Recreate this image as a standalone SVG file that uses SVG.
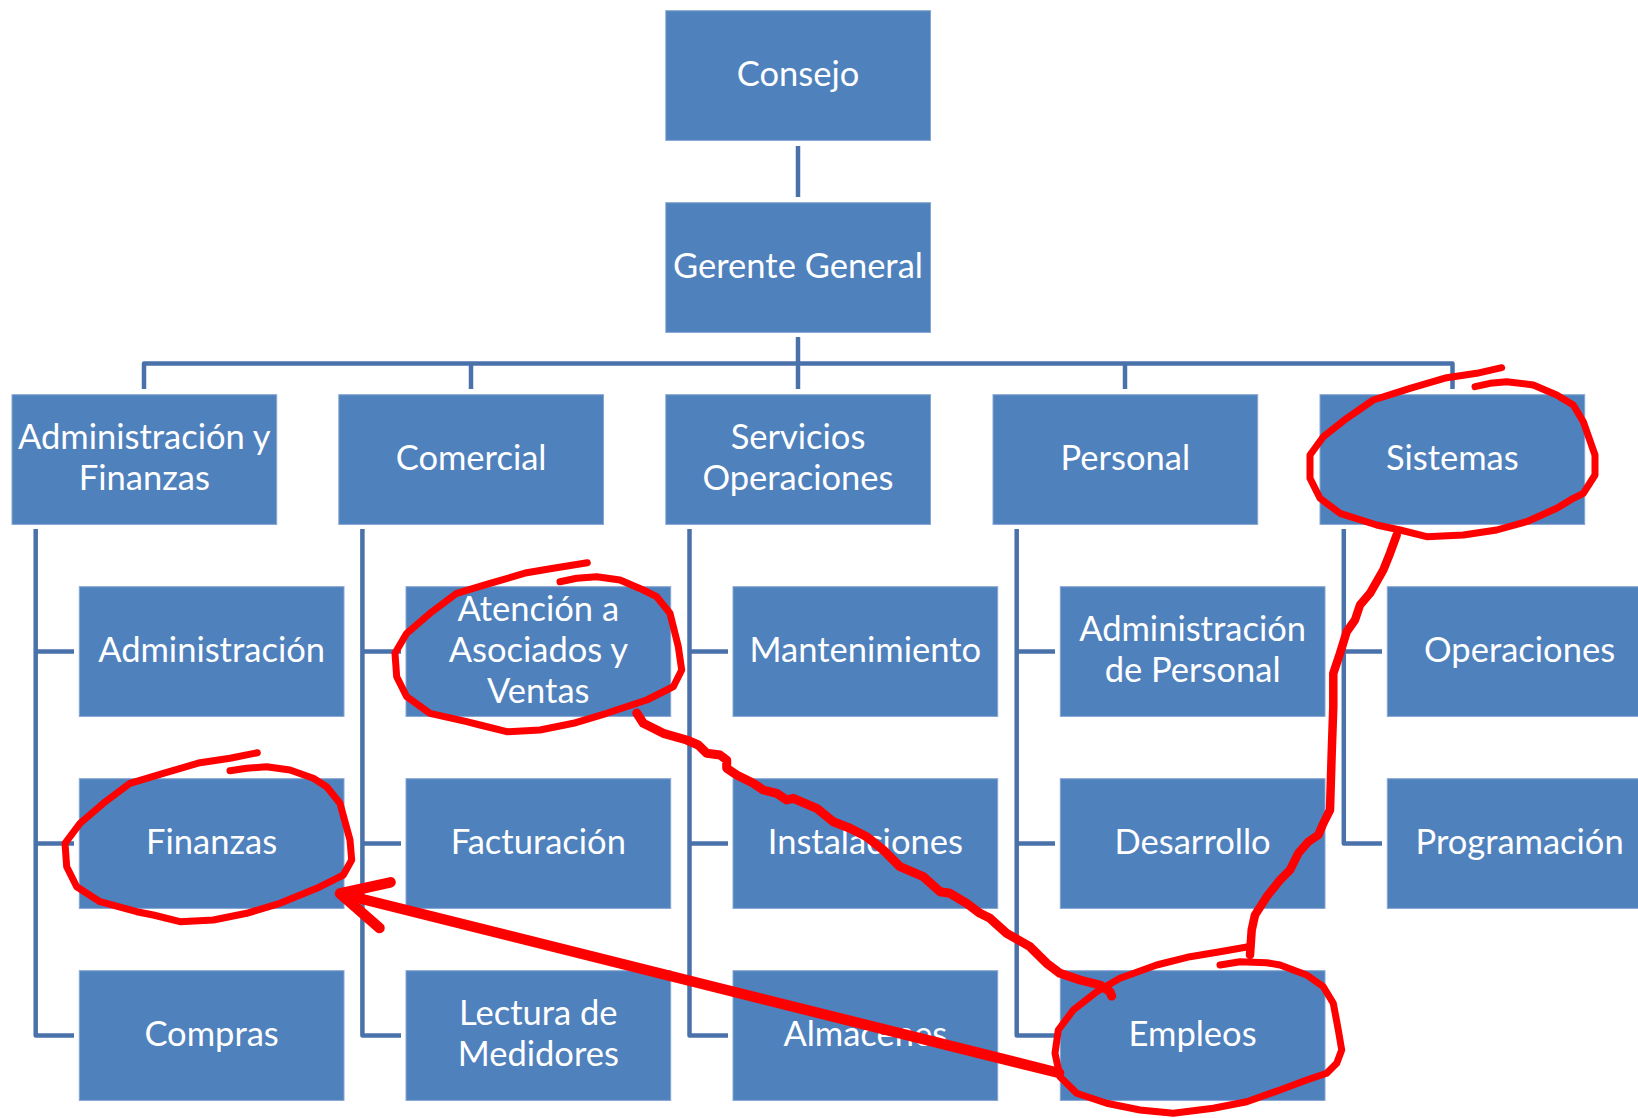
<svg xmlns="http://www.w3.org/2000/svg" width="1638" height="1118" viewBox="0 0 1638 1118">
  <style>
    .box { fill: #4f81bd; stroke: #86a5d3; stroke-width: 1; }
    .txt { fill: #ffffff; font-family: Lato, "Open Sans", "Liberation Sans", sans-serif; font-size: 34.5px; text-anchor: middle; }
    .conn { fill: none; stroke: #4a72aa; stroke-width: 4.5; stroke-linejoin: round; }
    .ink { fill: none; stroke: #ff0000; stroke-linecap: round; stroke-linejoin: round; }
  </style>
  <rect width="1638" height="1118" fill="#ffffff"/>

  <!-- connectors -->
  <g id="connectors" class="conn">
    <path d="M798,146 V197"/>
    <path d="M798,337 V389"/>
    <path d="M144,389 V363.5 H1452.5 V389"/>
    <path d="M471,363.5 V389"/>
    <path d="M1125,363.5 V389"/>
    <!-- column 1 -->
    <path d="M35.7,529 V1035.5 H74"/>
    <path d="M35.7,651.5 H74 M35.7,843.5 H74"/>
    <!-- column 2 -->
    <path d="M362.4,529 V1035.5 H401"/>
    <path d="M362.4,651.5 H401 M362.4,843.5 H401"/>
    <!-- column 3 -->
    <path d="M689.5,529 V1035.5 H728"/>
    <path d="M689.5,651.5 H728 M689.5,843.5 H728"/>
    <!-- column 4 -->
    <path d="M1016.7,529 V1035.5 H1055"/>
    <path d="M1016.7,651.5 H1055 M1016.7,843.5 H1055"/>
    <!-- column 5 -->
    <path d="M1343.8,529 V843.5 H1382"/>
    <path d="M1343.8,651.5 H1382"/>
  </g>

  <!-- top levels -->
  <g id="consejo"><rect class="box" x="665.8" y="10.7" width="264.7" height="129.7"/><text class="txt" x="798" y="85.8">Consejo</text></g>
  <g id="gerente-general"><rect class="box" x="665.8" y="202.7" width="264.7" height="129.7"/><text class="txt" x="798" y="277.8">Gerente General</text></g>

  <!-- departments -->
  <g id="administracion-finanzas"><rect class="box" x="12" y="394.7" width="264.7" height="129.7"/><text class="txt" x="144.3" y="449.4">Administración y</text><text class="txt" x="144.3" y="490.1">Finanzas</text></g>
  <g id="comercial"><rect class="box" x="338.8" y="394.7" width="264.7" height="129.7"/><text class="txt" x="471.1" y="469.8">Comercial</text></g>
  <g id="servicios-operaciones"><rect class="box" x="665.8" y="394.7" width="264.7" height="129.7"/><text class="txt" x="798" y="449.4">Servicios</text><text class="txt" x="798" y="490.1">Operaciones</text></g>
  <g id="personal"><rect class="box" x="993" y="394.7" width="264.7" height="129.7"/><text class="txt" x="1125.3" y="469.8">Personal</text></g>
  <g id="sistemas"><rect class="box" x="1320" y="394.7" width="264.7" height="129.7"/><text class="txt" x="1452.3" y="469.8">Sistemas</text></g>

  <!-- column 1 units -->
  <g id="administracion"><rect class="box" x="79.3" y="586.7" width="264.7" height="129.7"/><text class="txt" x="211.6" y="661.8">Administración</text></g>
  <g id="finanzas"><rect class="box" x="79.3" y="778.7" width="264.7" height="129.7"/><text class="txt" x="211.6" y="853.8">Finanzas</text></g>
  <g id="compras"><rect class="box" x="79.3" y="970.7" width="264.7" height="129.7"/><text class="txt" x="211.6" y="1045.8">Compras</text></g>

  <!-- column 2 units -->
  <g id="atencion-asociados-ventas"><rect class="box" x="406" y="586.7" width="264.7" height="129.7"/><text class="txt" x="538.3" y="621.1">Atención a</text><text class="txt" x="538.3" y="661.8">Asociados y</text><text class="txt" x="538.3" y="702.5">Ventas</text></g>
  <g id="facturacion"><rect class="box" x="406" y="778.7" width="264.7" height="129.7"/><text class="txt" x="538.3" y="853.8">Facturación</text></g>
  <g id="lectura-medidores"><rect class="box" x="406" y="970.7" width="264.7" height="129.7"/><text class="txt" x="538.3" y="1025.4">Lectura de</text><text class="txt" x="538.3" y="1066.1">Medidores</text></g>

  <!-- column 3 units -->
  <g id="mantenimiento"><rect class="box" x="733" y="586.7" width="264.7" height="129.7"/><text class="txt" x="865.3" y="661.8">Mantenimiento</text></g>
  <g id="instalaciones"><rect class="box" x="733" y="778.7" width="264.7" height="129.7"/><text class="txt" x="865.3" y="853.8">Instalaciones</text></g>
  <g id="almacenes"><rect class="box" x="733" y="970.7" width="264.7" height="129.7"/><text class="txt" x="865.3" y="1045.8">Almacenes</text></g>

  <!-- column 4 units -->
  <g id="administracion-personal"><rect class="box" x="1060.3" y="586.7" width="264.7" height="129.7"/><text class="txt" x="1192.6" y="641.4">Administración</text><text class="txt" x="1192.6" y="682.1">de Personal</text></g>
  <g id="desarrollo"><rect class="box" x="1060.3" y="778.7" width="264.7" height="129.7"/><text class="txt" x="1192.6" y="853.8">Desarrollo</text></g>
  <g id="empleos"><rect class="box" x="1060.3" y="970.7" width="264.7" height="129.7"/><text class="txt" x="1192.6" y="1045.8">Empleos</text></g>

  <!-- column 5 units -->
  <g id="operaciones"><rect class="box" x="1387.3" y="586.7" width="264.7" height="129.7"/><text class="txt" x="1519.6" y="661.8">Operaciones</text></g>
  <g id="programacion"><rect class="box" x="1387.3" y="778.7" width="264.7" height="129.7"/><text class="txt" x="1519.6" y="853.8">Programación</text></g>

  <!-- hand-drawn red markup -->
  <g id="markup" class="ink">
    <path stroke-width="7" d="M587.3,562.7 L553.3,568.3 L526.7,572.7 L490,583.3 L456.7,593.3 L430,613.3 L406.7,633.3 L395,653.3 L396.7,676.7 L406.7,696.7 L430,713.3 L466.7,721.7 L480,725 L506.7,731.7 L540,730 L573.3,723.3 L606.7,713.3 L646.7,700 L666.7,690 L673.3,686.7 L681.7,670 L678.3,646.7 L670,613.3 L656.7,596.7 L643.3,590 L620,580 L596.7,576.7 L576.7,578.3 L560,581.7"/>
    <path stroke-width="7" d="M257.3,752.7 L230,758.3 L200,762.7 L163.3,773.3 L130,783.3 L103.3,803.3 L80,823.3 L65,843.3 L66.7,866.7 L76.7,886.7 L100,901.7 L136.7,911.7 L153.3,915 L180,921.7 L213.3,920 L246.7,913.3 L280,903.3 L316.7,888.3 L336.7,878.3 L343.3,875 L351.7,860 L350,840 L340,803.3 L326.7,786.7 L313.3,778.3 L290,770 L266.7,766.7 L246.7,768.3 L230,770.7"/>
    <path stroke-width="7" d="M1501.7,367.7 L1476.7,373.3 L1446.7,377.7 L1410,388.3 L1373.3,400 L1346.7,418.3 L1323.3,436.7 L1310,455 L1310,478.3 L1320,498.3 L1340,513.3 L1376.7,525 L1400,530 L1426.7,536.7 L1463.3,535 L1496.7,530 L1526.7,521.7 L1556.7,508.3 L1573.3,498.3 L1583.3,493.3 L1595,475 L1595,455 L1583.3,421.7 L1573.3,405 L1556.7,395 L1533.3,385 L1506.7,381.7 L1490,383.3 L1475,386.7"/>
    <path stroke-width="7" d="M1248.3,946.7 L1220,951.7 L1190,956.7 L1156.7,965 L1120,978.3 L1096.7,991.7 L1073.3,1010 L1058.3,1030 L1055,1053.3 L1060,1076.7 L1076.7,1093.3 L1106.7,1103.3 L1140,1110 L1173.3,1113.3 L1213.3,1108.3 L1246.7,1101.7 L1280,1090 L1306.7,1080 L1326.7,1073.3 L1336.7,1063.3 L1341.7,1050 L1338.3,1030 L1333.3,1003.3 L1323.3,986.7 L1306.7,975 L1280,965 L1266.7,962.7 L1240,961.7 L1220,965"/>
    <path stroke-width="9" d="M636.7,713 L643.3,723.3 L663.3,733.3 L686.7,740 L698.3,745 L706.7,753.3 L720,755 L726.7,760 L726.7,768.3 L736.7,775 L753.3,783.3 L763.3,790 L776.7,793.3 L786.7,800 L793.3,798.3 L816.7,808.3 L833.3,821.7 L850,828.3 L866.7,836.7 L883.3,850 L900,866.7 L923.3,876.7 L940,891.7 L950,893.3 L966.7,903.3 L980,913.3 L990,918.3 L1006.7,933.3 L1030,946.7 L1046.7,963.3 L1060,973.3 L1080,980 L1100,985 L1110,991.7 L1111.7,996"/>
    <path stroke-width="8.5" d="M1396.7,535 L1390,553.3 L1383.3,570 L1376.7,581.7 L1370,593.3 L1360,605 L1355,620 L1346.7,631.7 L1340,653.3 L1333.3,673.3 L1333.3,706.7 L1331.7,753.3 L1330,810 L1323.3,823.3 L1318.3,835 L1308.3,841.7 L1298.3,853.3 L1290,870 L1280,880 L1266.7,896.7 L1255,915 L1251.7,930 L1250,955"/>
    <path stroke-width="10.5" d="M1059,1073 L342,894"/>
    <path stroke-width="10.5" d="M390.6,882.3 L340,893.5 L379.5,928"/>
  </g>
</svg>
